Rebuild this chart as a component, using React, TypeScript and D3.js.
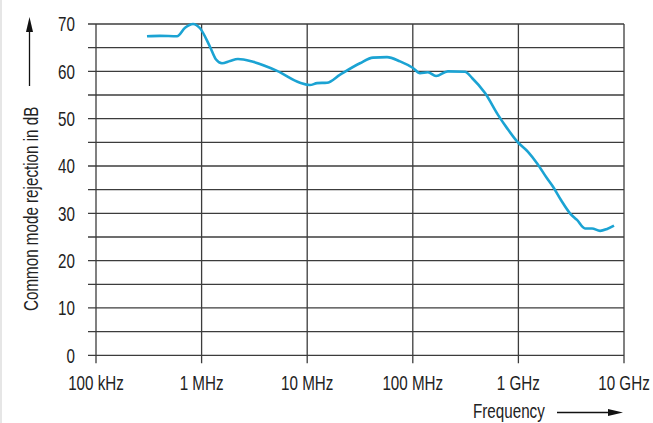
import React from "react";
import * as d3 from "d3";

// Frequency in MHz, common mode rejection in dB
const freqMHz = [0.304, 0.404, 0.585, 0.697, 0.83, 0.966, 1.2, 1.37, 1.56, 1.86, 2.21, 3.07, 5.18, 8.55, 10.6, 12.4, 15.4, 20.5, 31.6, 42, 57, 75.7, 100.5, 117, 139, 166, 215, 312, 364, 483, 641, 780, 970, 1233, 1500, 1866, 2128, 2531, 3080, 3590, 4275, 4980, 5930, 6906, 8040];
const rejectionDb = [67.4, 67.5, 67.4, 69.2, 70.0, 69.1, 65.2, 62.5, 61.7, 62.2, 62.6, 62.0, 60.1, 57.6, 57.1, 57.5, 57.6, 59.3, 61.7, 62.9, 63.0, 62.1, 60.7, 59.6, 59.8, 59.0, 60.0, 59.9, 58.6, 55.4, 50.8, 48.0, 45.2, 43.0, 40.6, 37.4, 35.6, 32.8, 30.0, 28.6, 26.8, 26.8, 26.3, 26.7, 27.4];

const xTickValues = [0.1, 1, 10, 100, 1000, 10000];
const xTickLabels = ["100 kHz", "1 MHz", "10 MHz", "100 MHz", "1 GHz", "10 GHz"];
const yTickValues = [0, 10, 20, 30, 40, 50, 60, 70];
const yGridValues = [0, 5, 10, 15, 20, 25, 30, 35, 40, 45, 50, 55, 60, 65, 70];

const W = 653;
const H = 423;
const left = 96, right = 624, top = 24, bottom = 355.3;
const FONT = "'Liberation Sans', Arial, sans-serif";
const FS = 20;
const SX = 0.76;

function Label(props: { x: number; y: number; anchor: string; rotate?: number; children: React.ReactNode }) {
  const { x, y, anchor, rotate = 0, children } = props;
  return (
    <text
      transform={`translate(${x},${y}) rotate(${rotate}) scale(${SX},1)`}
      textAnchor={anchor}
      fontFamily={FONT}
      fontSize={FS}
      fill="#222"
    >
      {children}
    </text>
  );
}

export default function App() {
  const x = d3.scaleLog().domain([0.1, 10000]).range([left, right]);
  const y = d3.scaleLinear().domain([0, 70]).range([bottom, top]);
  const pts: [number, number][] = freqMHz.map((f, i) => [f, rejectionDb[i]]);
  const line = d3
    .line<[number, number]>()
    .x((d) => x(d[0]))
    .y((d) => y(d[1]))
    .curve(d3.curveMonotoneX);

  const gridColor = "#3c3c3c";
  return (
    <svg width={W} height={H} style={{ position: "absolute", left: 0, top: 0, background: "#fff" }}>
      <line x1={1} x2={1} y1={0} y2={H} stroke="#e6e6e6" strokeWidth={2} />
      {yGridValues.map((v) => (
        <line key={"h" + v} x1={left - 8} x2={right} y1={y(v)} y2={y(v)} stroke={gridColor} strokeWidth={1.3} />
      ))}
      {xTickValues.map((v) => (
        <line key={"v" + v} x1={x(v)} x2={x(v)} y1={top} y2={bottom + 8} stroke={gridColor} strokeWidth={1.3} />
      ))}
      {yTickValues.map((v) => (
        <Label key={"yt" + v} x={75} y={y(v) + 7.3} anchor="end">
          {v}
        </Label>
      ))}
      {xTickValues.map((v, i) => (
        <Label key={"xt" + v} x={x(v)} y={390} anchor="middle">
          {xTickLabels[i]}
        </Label>
      ))}
      <path d={line(pts) || ""} fill="none" stroke="#1ba3d3" strokeWidth={2.6} strokeLinejoin="round" />
      {/* Y axis title with arrow */}
      <Label x={38} y={311} anchor="start" rotate={-90}>
        Common mode rejection in dB
      </Label>
      <line x1={29.5} x2={29.5} y1={86} y2={30} stroke="#111" strokeWidth={1.3} />
      <path d="M29.5,17 L26,32 L33,32 Z" fill="#111" />
      {/* X axis title with arrow */}
      <Label x={473} y={418} anchor="start">
        Frequency
      </Label>
      <line x1={557} x2={610} y1={412.5} y2={412.5} stroke="#111" strokeWidth={1.3} />
      <path d="M623,412.5 L608,409 L608,416 Z" fill="#111" />
    </svg>
  );
}
